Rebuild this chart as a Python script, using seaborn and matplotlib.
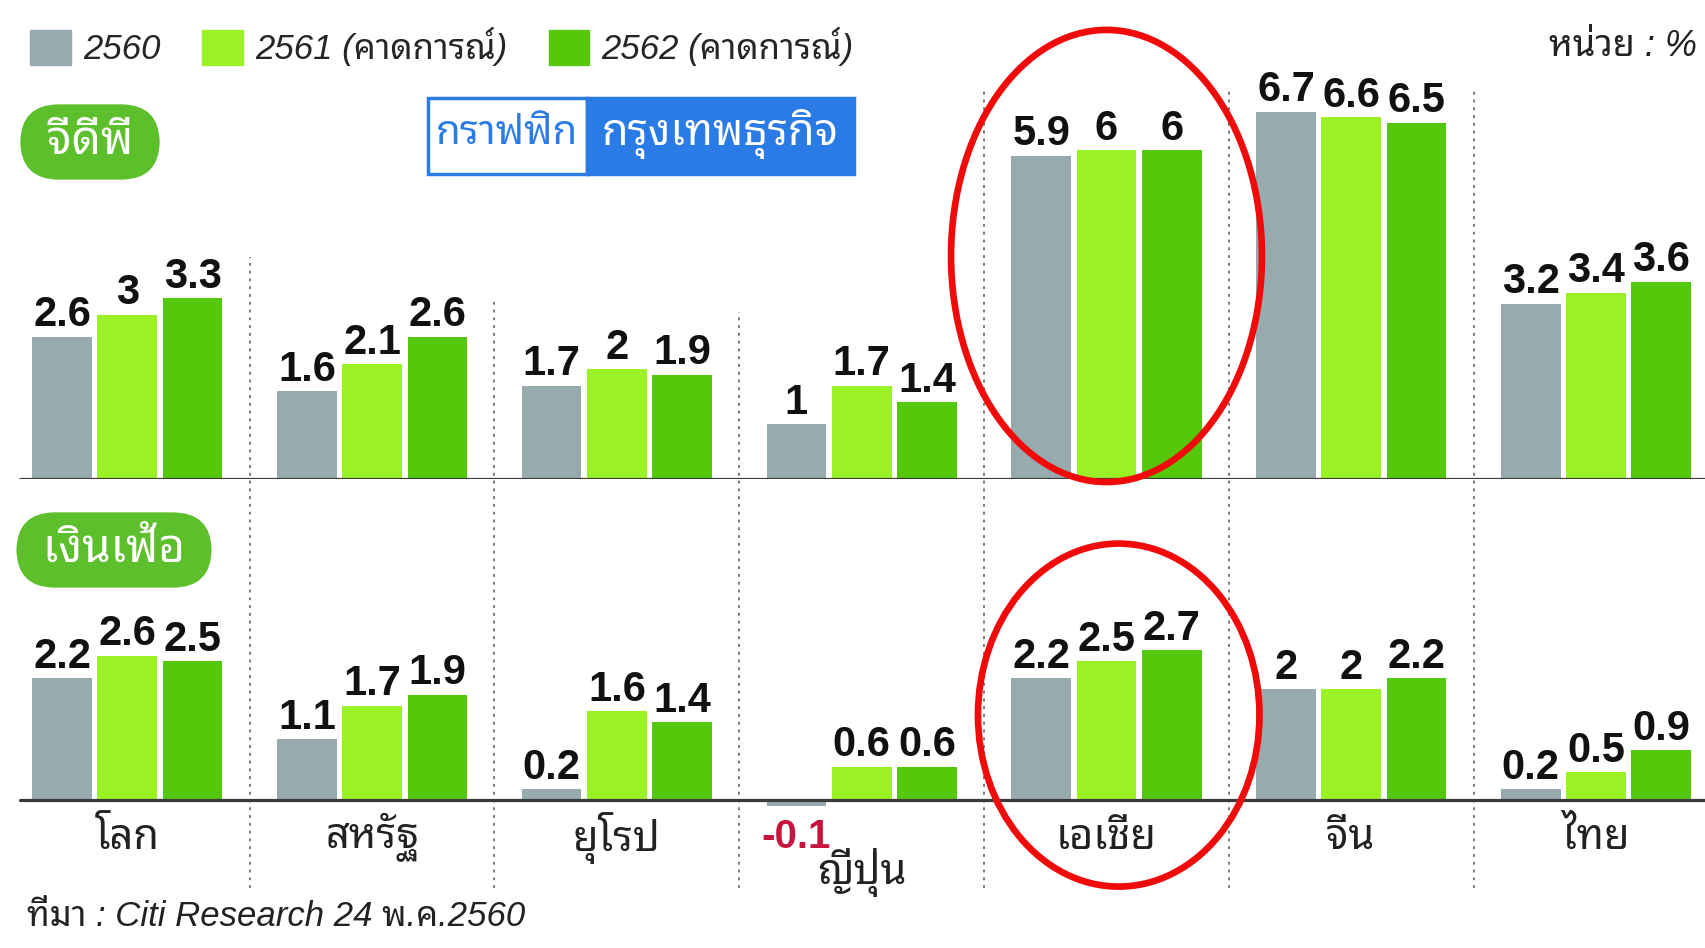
import matplotlib
matplotlib.use("Agg")
import matplotlib.pyplot as plt
import seaborn as sns
import pandas as pd
from matplotlib import font_manager as fm
from matplotlib.ft2font import FT2Font
from matplotlib.patches import Ellipse, Rectangle, Patch
from matplotlib.font_manager import FontProperties

# data
regions = ["โลก", "สหรัฐ", "ยุโรป", "ญี่ปุ่น", "เอเชีย", "จีน", "ไทย"]
years = ["2560", "2561 (คาดการณ์)", "2562 (คาดการณ์)"]
gdp_2560 = [2.6, 1.6, 1.7, 1.0, 5.9, 6.7, 3.2]
gdp_2561 = [3.0, 2.1, 2.0, 1.7, 6.0, 6.6, 3.4]
gdp_2562 = [3.3, 2.6, 1.9, 1.4, 6.0, 6.5, 3.6]
inf_2560 = [2.2, 1.1, 0.2, -0.1, 2.2, 2.0, 0.2]
inf_2561 = [2.6, 1.7, 1.6, 0.6, 2.5, 2.0, 0.5]
inf_2562 = [2.5, 1.9, 1.4, 0.6, 2.7, 2.2, 0.9]
highlight = "เอเชีย"

colors = ["#97abae", "#9af226", "#55c80c"]
GREEN_PILL = "#5dbf2b"
BLUE = "#2b7be6"
RED = "#f00a0a"


def find_thai_font():
    found = []
    seen = set()
    for f in fm.fontManager.ttflist:
        if f.fname in seen:
            continue
        seen.add(f.fname)
        try:
            cmap = FT2Font(f.fname).get_charmap()
        except Exception:
            continue
        if 0x0E01 in cmap and 0x0E49 in cmap:
            found.append(f.name)
    if not found:
        return "DejaVu Sans"
    for key in ["Noto Sans Thai", "Sarabun", "Loma", "Garuda", "Waree", "Tlwg"]:
        for n in found:
            if key in n:
                return n
    return found[0]


names = {f.name for f in fm.fontManager.ttflist}
THAI = find_thai_font()
NUM = "Liberation Sans Narrow" if "Liberation Sans Narrow" in names else "Liberation Sans"
NUM_SIZE = 35 if NUM.endswith("Narrow") else 30
MIX = [NUM, THAI, "DejaVu Sans"]

sns.set_style("white")
plt.rcParams["font.family"] = MIX

W, H = 1706, 948
fig = plt.figure(figsize=(W / 100, H / 100), dpi=100)
XMIN, XMAX = -0.52, 6.449

top_px, bot_px = 54.8, 55.5
ax_top = fig.add_axes([0, (H - 479) / H, 1, 8.6 * top_px / H])
ax_bot = fig.add_axes([0, (H - 800 - 1.5 * bot_px) / H, 1, 6 * bot_px / H])


def long_frame(a, b, c):
    return pd.DataFrame({
        "region": regions * 3,
        "year": [y for y in years for _ in regions],
        "value": a + b + c,
    })


panels = [
    (ax_top, long_frame(gdp_2560, gdp_2561, gdp_2562), [gdp_2560, gdp_2561, gdp_2562], (0, 8.6)),
    (ax_bot, long_frame(inf_2560, inf_2561, inf_2562), [inf_2560, inf_2561, inf_2562], (-1.5, 4.5)),
]

for ax, df, series, ylim in panels:
    sns.barplot(data=df, x="region", y="value", hue="year", order=regions,
                hue_order=years, palette=colors, saturation=1, width=0.8,
                gap=0.085, linewidth=0, legend=False, ax=ax)
    ax.set_xlim(XMIN, XMAX)
    ax.set_ylim(*ylim)
    ax.axis("off")
    ax.axhline(0, xmin=0.0115, color="#3b3b3b", lw=2.3, zorder=3)
    for cont, vals in zip(ax.containers, series):
        for bar, v in zip(cont, vals):
            x = bar.get_x() + bar.get_width() / 2
            if v >= 0:
                ax.annotate(f"{v:g}", (x, v), xytext=(0, 1), textcoords="offset points",
                            ha="center", va="bottom", fontsize=NUM_SIZE, fontweight="bold",
                            family=NUM, color="#111111")
            else:
                ax.annotate(f"{v:g}", (x, v), xytext=(0, -9), textcoords="offset points",
                            ha="center", va="top", fontsize=NUM_SIZE - 1, fontweight="bold",
                            family=NUM, color="#c8143c")

# dotted separators between regions
sep_tops = [4.05, 3.23, 3.05, 7.12, 7.12, 7.12]
seps = ax_top.vlines([i + 0.5 for i in range(len(regions) - 1)], -7.46, sep_tops,
                     colors="#7a7a7a", linestyles=(0, (1.5, 2.5)), lw=1.4)
seps.set_clip_on(False)

# region names under the lower panel
for i, name in enumerate(regions):
    y = -1.3 if name == "ญี่ปุ่น" else -0.68
    ax_bot.text(i, y, name, ha="center", va="center", fontsize=30,
                family=[THAI, "DejaVu Sans"], color="#222222")

# red rings around Asia
hi = regions.index(highlight)
ax_top.add_patch(Ellipse((hi, 4.07), 1.27, 8.25, fill=False, ec=RED, lw=4.8,
                         clip_on=False, zorder=5))
ax_bot.add_patch(Ellipse((hi + 0.05, 1.53), 1.15, 6.18, fill=False, ec=RED, lw=4.8,
                         clip_on=False, zorder=5))

# legend
LEG_SIZE = 25
handles = [Patch(color=c, label=y) for c, y in zip(colors, years)]
fig.legend(handles=handles, loc="upper left", bbox_to_anchor=(30 / W, 1 - 27 / H),
           ncol=3, frameon=False, borderpad=0, borderaxespad=0,
           handlelength=1.17, handleheight=1.17, handletextpad=0.35, columnspacing=1.2,
           prop=FontProperties(family=MIX, style="italic", size=LEG_SIZE))

fig.text(1697 / W, 1 - 47 / H, "หน่วย : %", ha="right", va="center", fontsize=26,
         style="italic", color="#222222")

# section pills
pill = dict(boxstyle="round,pad=0.32,rounding_size=0.85", fc=GREEN_PILL, ec="none")
fig.text(90 / W, 1 - 142 / H, " จีดีพี ", ha="center", va="center", fontsize=33,
         fontweight="bold", color="white", family=[THAI, "DejaVu Sans"], bbox=pill)
fig.text(114 / W, 1 - 550 / H, " เงินเฟ้อ ", ha="center", va="center", fontsize=33,
         fontweight="bold", color="white", family=[THAI, "DejaVu Sans"], bbox=pill)

# graphic credit box
fig.add_artist(Rectangle((428 / W, 1 - 174 / H), (587 - 428) / W, 76 / H,
                         transform=fig.transFigure, fc="white", ec=BLUE, lw=2.5))
fig.add_artist(Rectangle((587 / W, 1 - 174 / H), (854 - 587) / W, 76 / H,
                         transform=fig.transFigure, fc=BLUE, ec=BLUE, lw=2.5))
fig.text(507 / W, 1 - 134 / H, "กราฟฟิก", ha="center", va="center", fontsize=29,
         style="italic", color=BLUE, family=[THAI, "DejaVu Sans"])
fig.text(720 / W, 1 - 134 / H, "กรุงเทพธุรกิจ", ha="center", va="center", fontsize=31,
         fontweight="bold", color="white", family=[THAI, "DejaVu Sans"])

fig.text(27 / W, 1 - 917 / H, "ที่มา : Citi Research 24 พ.ค.2560", ha="left", va="center",
         fontsize=25, style="italic", color="#222222")

fig.savefig("out.png", dpi=100, facecolor="white")
